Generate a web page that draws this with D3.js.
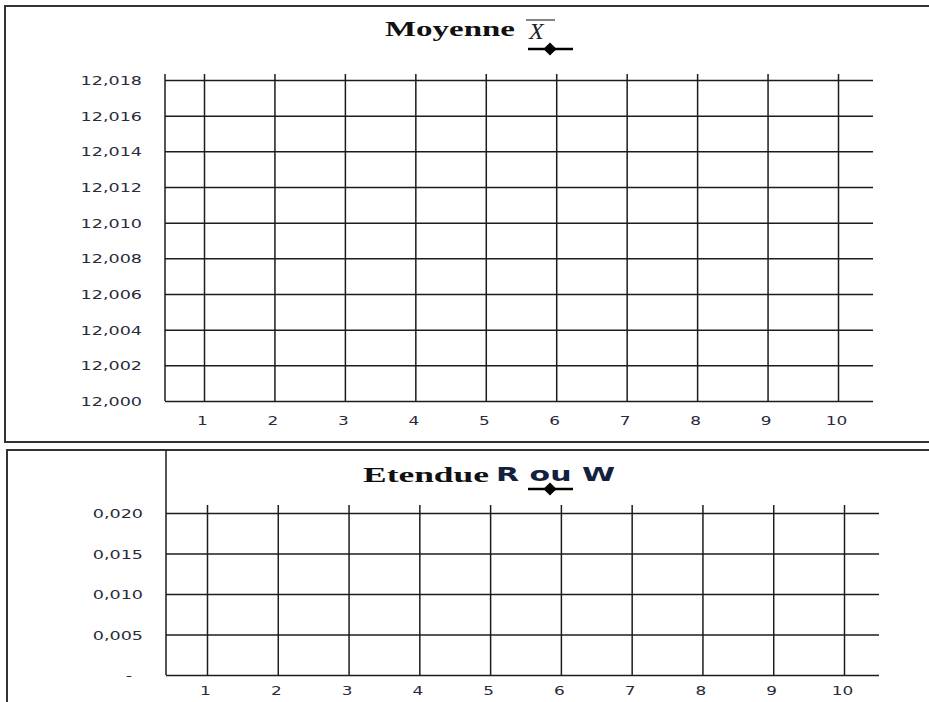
<!DOCTYPE html>
<html>
<head>
<meta charset="utf-8">
<script src="https://cdn.jsdelivr.net/npm/d3@7"></script>
<style>
  body { margin: 0; background: #fff; }
  svg { display: block; }
  .grid line { stroke: #1c1c1c; stroke-width: 1.5; }
  .tick-label { font-family: "DejaVu Sans", Verdana, sans-serif; font-size: 13px; fill: #2a2a3a; }
</style>
</head>
<body>
<svg id="plot"></svg>
<script>
// Data: sample numbers and axis ticks (chart is an empty control-chart template)
const samples = [1, 2, 3, 4, 5, 6, 7, 8, 9, 10];
const meanTicks = [12.000, 12.002, 12.004, 12.006, 12.008, 12.010, 12.012, 12.014, 12.016, 12.018];
const rangeTicks = [0, 0.005, 0.010, 0.015, 0.020];
const meanValues = [];   // no points plotted yet
const rangeValues = [];

const W = 929, H = 702;
const svg = d3.select("#plot").attr("width", W).attr("height", H);

// French number format: comma decimal
const fr = d3.formatLocale({ decimal: ",", thousands: " ", grouping: [3], currency: ["", " €"] });
const fmt3 = fr.format(".3f");

// Panel frames
svg.append("rect")
    .attr("x", 5).attr("y", 6).attr("width", 940).attr("height", 436)
    .attr("fill", "none").attr("stroke", "#333").attr("stroke-width", 2);
svg.append("rect")
    .attr("x", 7).attr("y", 450).attr("width", 940).attr("height", 300)
    .attr("fill", "none").attr("stroke", "#333").attr("stroke-width", 2);

function drawPanel(opt) {
    const g = svg.append("g");

    const x = d3.scalePoint().domain(opt.categories).range(opt.xRange);
    const y = d3.scaleLinear().domain(d3.extent(opt.ticks)).range(opt.yRange);
    const bottom = opt.yRange[0], top = opt.yRange[1];

    // horizontal gridlines + y labels
    const ya = g.append("g")
        .attr("class", "grid")
        .attr("transform", `translate(${opt.axisX},0)`)
        .call(d3.axisLeft(y).tickValues(opt.ticks).tickFormat(opt.format).tickSize(-(opt.gridEnd - opt.axisX)));
    ya.select(".domain").remove();
    ya.selectAll("text")
        .attr("class", "tick-label")
        .attr("x", null).attr("dy", "0.35em")
        .attr("transform", d => d === 0 && opt.zeroDash ? "translate(-34,0) scale(1.35,1)" : "translate(-23,0) scale(1.35,1)")
        .attr("text-anchor", "end");

    // vertical lines for each sample + x labels
    const xa = g.append("g")
        .attr("class", "grid")
        .attr("transform", `translate(0,${bottom})`)
        .call(d3.axisBottom(x).tickSize(-(bottom - top + opt.overhang)));
    xa.select(".domain").remove();
    xa.selectAll("text")
        .attr("class", "tick-label")
        .attr("y", null).attr("dy", null)
        .attr("transform", `translate(-2,${opt.labelDy}) scale(1.3,1)`)
        .attr("text-anchor", "middle");

    // y axis line
    g.append("line")
        .attr("x1", opt.axisX).attr("x2", opt.axisX)
        .attr("y1", opt.axisTop).attr("y2", bottom)
        .attr("stroke", "#1c1c1c").attr("stroke-width", 1.5);

    // series (empty)
    g.append("path")
        .datum(opt.values)
        .attr("fill", "none").attr("stroke", "#000").attr("stroke-width", 2.5)
        .attr("d", d3.line().x((d, i) => x(opt.categories[i])).y(d => y(d)));

    return g;
}

function legendMark(cx, cy) {
    svg.append("line")
        .attr("x1", cx - 22).attr("x2", cx + 23).attr("y1", cy).attr("y2", cy)
        .attr("stroke", "#000").attr("stroke-width", 2.5);
    svg.append("path")
        .attr("transform", `translate(${cx},${cy})`)
        .attr("d", d3.symbol(d3.symbolDiamond2, 110)())
        .attr("fill", "#000");
}

// Top panel: mean
drawPanel({
    categories: samples, ticks: meanTicks, values: meanValues, format: fmt3,
    xRange: [204, 838], yRange: [401, 80], axisX: 165, gridEnd: 873,
    axisTop: 74, overhang: 6, labelDy: 24, zeroDash: false
});

// Bottom panel: range
drawPanel({
    categories: samples, ticks: rangeTicks, values: rangeValues,
    format: d => d === 0 ? "-" : fmt3(d),
    xRange: [207, 844], yRange: [675, 513], axisX: 166, gridEnd: 879,
    axisTop: 450, overhang: 8, labelDy: 20, zeroDash: true
});

// Titles
svg.append("text")
    .attr("x", 385).attr("y", 36)
    .attr("font-family", "'Liberation Serif', 'Times New Roman', serif")
    .attr("font-weight", "bold").attr("font-size", 21)
    .attr("textLength", 130).attr("lengthAdjust", "spacingAndGlyphs")
    .attr("fill", "#111")
    .text("Moyenne");
svg.append("text")
    .attr("x", 529).attr("y", 39)
    .attr("font-family", "'Liberation Serif', 'Times New Roman', serif")
    .attr("font-style", "italic").attr("font-size", 24)
    .attr("fill", "#222")
    .text("X");
svg.append("line")
    .attr("x1", 526).attr("x2", 555).attr("y1", 20).attr("y2", 20)
    .attr("stroke", "#333").attr("stroke-width", 1.2);
legendMark(550, 49);

svg.append("text")
    .attr("x", 363).attr("y", 482)
    .attr("font-family", "'Liberation Serif', 'Times New Roman', serif")
    .attr("font-weight", "bold").attr("font-size", 20)
    .attr("textLength", 126).attr("lengthAdjust", "spacingAndGlyphs")
    .attr("fill", "#111")
    .text("Etendue");
svg.append("text")
    .attr("x", 496).attr("y", 481)
    .attr("font-family", "'DejaVu Sans', Verdana, sans-serif")
    .attr("font-weight", "bold").attr("font-size", 20)
    .attr("textLength", 119).attr("lengthAdjust", "spacingAndGlyphs")
    .attr("fill", "#14203f")
    .text("R ou W");
legendMark(550, 489);
</script>
</body>
</html>
